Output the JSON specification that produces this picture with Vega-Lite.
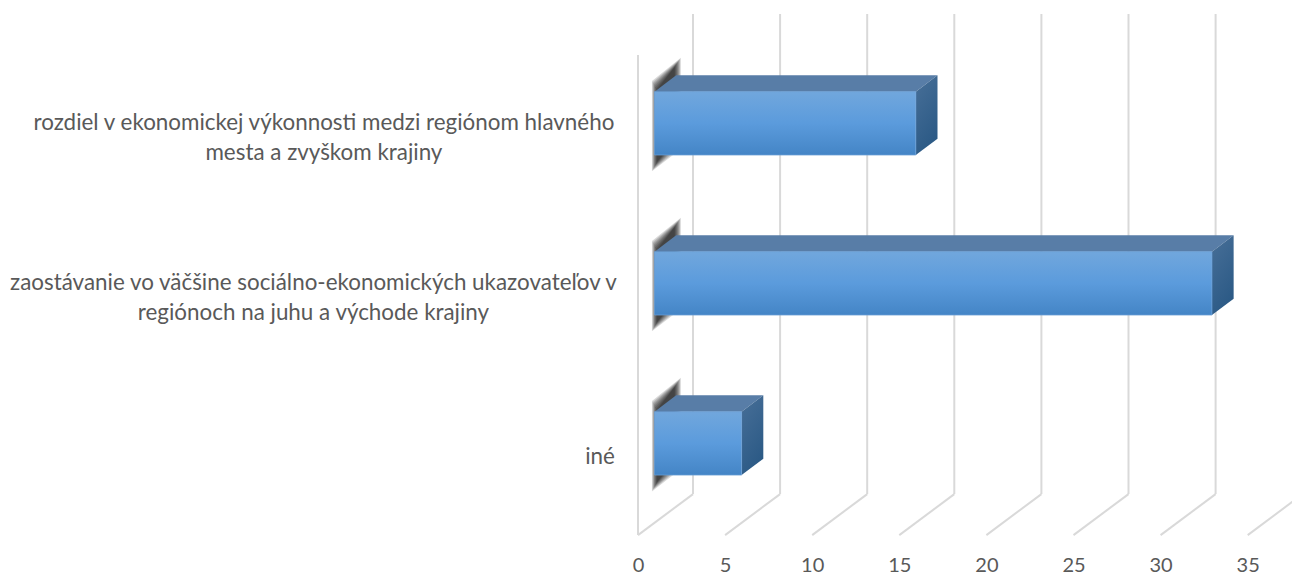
{
 "$schema":"https://vega.github.io/schema/vega-lite/v6.json",
 "width":1292,"height":540,
 "autosize":{"type":"none"},
 "padding":{"left":0,"top":0,"right":0,"bottom":34},
 "background":"white",
 "config":{"view":{"stroke":null}},
 "datasets":{
  "bars":[
   {"category":"iné","value":5,"rank":0},
   {"category":"zaostávanie vo väčšine sociálno-ekonomických ukazovateľov v\nregiónoch na juhu a východe krajiny","value":32,"rank":1},
   {"category":"rozdiel v ekonomickej výkonnosti medzi regiónom hlavného\nmesta a zvyškom krajiny","value":15,"rank":2}
  ],
  "ticks":[{"tick":0},{"tick":5},{"tick":10},{"tick":15},{"tick":20},{"tick":25},{"tick":30},{"tick":35}]
 },
 "encoding":{
  "x":{"field":"px","type":"quantitative","title":null,
   "scale":{"domain":[-36.625,37.543],"nice":false,"zero":false},
   "axis":{"values":[0,5,10,15,20,25,30,35],"grid":false,"domain":false,"ticks":false,"labelFont":"Lato","labelFontSize":20,"labelColor":"#595959","labelPadding":15,"labelOverlap":false,"labelFlush":false}},
  "y":{"field":"py","type":"quantitative","title":null,
   "scale":{"domain":[-0.60375,2.7706],"nice":false,"zero":false},"axis":null}
 },
 "layer":[
  {"data":{"name":"ticks"},
   "transform":[{"calculate":"datum.tick","as":"px"},{"calculate":"datum.tick+3.157","as":"px2"},{"calculate":"-0.573","as":"py"},{"calculate":"-0.317","as":"py2"}],
   "mark":{"type":"rule","stroke":"#d9d9d9","strokeWidth":2,"clip":true},
   "encoding":{"x2":{"field":"px2"},"y2":{"field":"py2"}}},
  {"data":{"name":"ticks"},
   "transform":[{"calculate":"datum.tick+3.157","as":"px"},{"calculate":"-0.317","as":"py"},{"calculate":"2.683","as":"py2"}],
   "mark":{"type":"rule","stroke":"#d9d9d9","strokeWidth":2,"clip":true},
   "encoding":{"y2":{"field":"py2"}}},
  {"data":{"values":[{"tick":0}]},
   "transform":[{"calculate":"datum.tick","as":"px"},{"calculate":"-0.573","as":"py"},{"calculate":"2.427","as":"py2"}],
   "mark":{"type":"rule","stroke":"#d9d9d9","strokeWidth":2},
   "encoding":{"y2":{"field":"py2"}}},
  {"data":{"name":"bars"},
   "transform":[
    {"calculate":"[0,1,2,3,4,5,6,7]","as":"i"},{"flatten":["i"]},
    {"calculate":"[0,1]","as":"k"},{"flatten":["k"]},
    {"calculate":"datum.k==0 ? 0.8+0.04*datum.i : 2.46-0.05*datum.i","as":"px"},
    {"calculate":"datum.rank+(datum.k==0?0.265:0.41)-0.008*datum.i","as":"py"},
    {"calculate":"datum.rank+(datum.k==0?-0.3:-0.16)+0.008*datum.i","as":"py2"},
    {"calculate":"datum.category+datum.i","as":"group"}
   ],
   "mark":{"type":"area","orient":"vertical","color":"#000000","opacity":0.15},
   "encoding":{"y2":{"field":"py2"},"detail":{"field":"group"}}},
  {"data":{"name":"bars"},
   "transform":[
    {"calculate":"[0,1,2,3]","as":"k"},{"flatten":["k"]},
    {"calculate":"0.947+(datum.k>=2?datum.value:0)+(datum.k%2==1?1.246:0)","as":"px"},
    {"calculate":"datum.rank+0.198+(datum.k>=1?0.102:0)","as":"py"},
    {"calculate":"datum.rank+0.198+(datum.k==3?0.102:0)","as":"py2"}
   ],
   "mark":{"type":"area","orient":"vertical","color":"#587da7"},
   "encoding":{"y2":{"field":"py2"},"detail":{"field":"category"}}},
  {"data":{"name":"bars"},
   "transform":[
    {"calculate":"[0,1]","as":"k"},{"flatten":["k"]},
    {"calculate":"0.947+datum.value+datum.k*1.246","as":"px"},
    {"calculate":"datum.rank+0.198+datum.k*0.102","as":"py"},
    {"calculate":"datum.rank-0.198+datum.k*0.102","as":"py2"}
   ],
   "mark":{"type":"area","orient":"vertical","color":{"gradient":"linear","x1":0.3,"y1":0,"x2":0.7,"y2":1,"stops":[{"offset":0,"color":"#456d96"},{"offset":1,"color":"#295884"}]}},
   "encoding":{"y2":{"field":"py2"},"detail":{"field":"category"}}},
  {"data":{"name":"bars"},
   "transform":[
    {"calculate":"0.947","as":"px"},{"calculate":"0.947+datum.value","as":"px2"},
    {"calculate":"datum.rank+0.198","as":"py"},{"calculate":"datum.rank-0.198","as":"py2"}
   ],
   "mark":{"type":"rect","stroke":"#6a9fd6","strokeWidth":0.75,"color":{"gradient":"linear","x1":0,"y1":0,"x2":0,"y2":1,"stops":[{"offset":0,"color":"#71a7dd"},{"offset":0.5,"color":"#5b9bdc"},{"offset":1,"color":"#4485c6"}]}},
   "encoding":{"x2":{"field":"px2"},"y2":{"field":"py2"}}},
  {"data":{"name":"bars"},
   "transform":[
    {"calculate":"[-2.18,-18.63,-18.03][datum.rank]","as":"px"},
    {"calculate":"datum.rank==0 ? -0.0875 : datum.rank","as":"py"}
   ],
   "mark":{"type":"text","align":"center","baseline":"middle","font":"Lato","fontSize":22.4,"color":"#595959","lineBreak":"\n","lineHeight":30},
   "encoding":{"text":{"field":"category"}}}
 ]
}
